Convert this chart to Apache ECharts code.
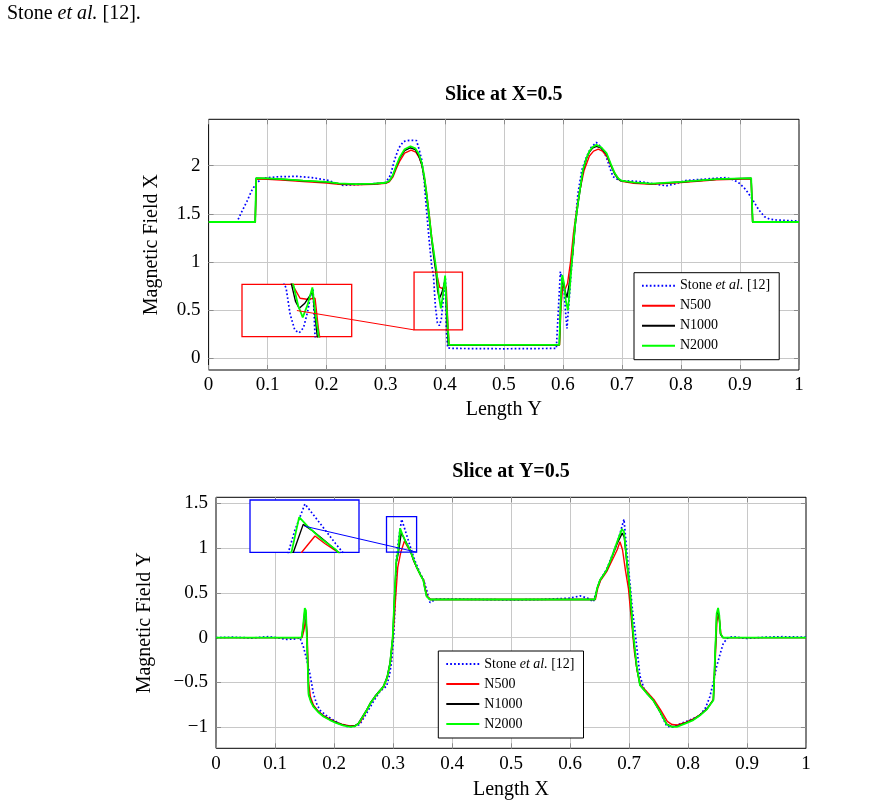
<!DOCTYPE html>
<html>
<head>
<meta charset="utf-8">
<title>Slice at X=0.5 / Slice at Y=0.5</title>
<script src="https://cdn.jsdelivr.net/npm/echarts@6.0.0/dist/echarts.min.js"></script>
<style>
    html, body { margin: 0; padding: 0; background: #fff; }
    #chart { width: 888px; height: 807px; }
</style>
</head>
<body>
<div id="chart"></div>
<script>
// legend names and colours
var STONE = 'Stone et al. [12]';
var seriesNames = [STONE, 'N500', 'N1000', 'N2000'];
var seriesColors = ['#0000ff', '#ff0000', '#000000', '#00ff00'];

// tick labels
var topYTicks = [0, 0.5, 1, 1.5, 2];
var botYTicks = [-1, -0.5, 0, 0.5, 1, 1.5];

// Slice at X=0.5 : [Length Y, Magnetic Field X]
var topStone = [[0,1.415],[0.048,1.415],[0.056,1.52],[0.065,1.63],[0.073,1.74],[0.081,1.82],[0.09,1.86],[0.1,1.875],[0.12,1.885],[0.15,1.888],[0.175,1.875],[0.2,1.85],[0.215,1.82],[0.228,1.795],[0.245,1.8],[0.268,1.81],[0.29,1.815],[0.3,1.825],[0.308,1.9],[0.315,2.06],[0.322,2.18],[0.33,2.25],[0.34,2.262],[0.352,2.26],[0.356,2.18],[0.361,2.06],[0.365,1.85],[0.369,1.54],[0.374,1.2],[0.3775,0.98],[0.381,0.85],[0.384,0.55],[0.3875,0.37],[0.3908,0.34],[0.394,0.4],[0.397,0.58],[0.3995,0.78],[0.4011,0.84],[0.4026,0.3],[0.405,0.11],[0.41,0.104],[0.5,0.1],[0.589,0.104],[0.5958,0.9],[0.599,0.8],[0.602,0.72],[0.605,0.45],[0.607,0.31],[0.61,0.55],[0.6144,0.92],[0.62,1.35],[0.6256,1.71],[0.632,1.95],[0.64,2.09],[0.648,2.19],[0.6567,2.24],[0.665,2.19],[0.6736,2.09],[0.68,1.97],[0.685,1.885],[0.696,1.845],[0.73,1.835],[0.755,1.81],[0.775,1.79],[0.79,1.81],[0.808,1.845],[0.84,1.86],[0.877,1.875],[0.89,1.85],[0.899,1.817],[0.91,1.75],[0.9217,1.644],[0.932,1.54],[0.9415,1.47],[0.95,1.445],[0.961,1.436],[0.98,1.43],[1,1.425]];
var topN500 = [[0,1.415],[0.079,1.415],[0.081,1.86],[0.1,1.858],[0.13,1.848],[0.16,1.835],[0.2,1.82],[0.22,1.806],[0.25,1.8],[0.28,1.805],[0.3,1.815],[0.306,1.832],[0.312,1.88],[0.318,1.97],[0.324,2.05],[0.332,2.13],[0.343,2.16],[0.351,2.14],[0.357,2.08],[0.362,1.99],[0.366,1.86],[0.37,1.68],[0.3745,1.45],[0.378,1.25],[0.382,1.06],[0.3856,0.896],[0.3914,0.736],[0.3965,0.725],[0.4026,0.736],[0.405,0.4],[0.4075,0.14],[0.5,0.14],[0.5945,0.14],[0.597,0.55],[0.6,0.75],[0.604,0.72],[0.608,0.78],[0.613,1.0],[0.618,1.3],[0.623,1.52],[0.628,1.72],[0.636,1.95],[0.645,2.1],[0.652,2.15],[0.66,2.17],[0.667,2.15],[0.675,2.09],[0.682,1.99],[0.69,1.9],[0.696,1.85],[0.702,1.835],[0.72,1.815],[0.75,1.805],[0.8,1.825],[0.86,1.852],[0.919,1.862],[0.9215,1.415],[1,1.415]];
var topN1000 = [[0,1.415],[0.079,1.415],[0.0805,1.87],[0.1,1.866],[0.13,1.856],[0.16,1.843],[0.2,1.828],[0.22,1.814],[0.25,1.807],[0.28,1.811],[0.3,1.82],[0.306,1.838],[0.312,1.895],[0.318,1.99],[0.324,2.08],[0.332,2.155],[0.342,2.185],[0.35,2.165],[0.356,2.1],[0.361,2.01],[0.365,1.88],[0.369,1.7],[0.3735,1.46],[0.3775,1.25],[0.381,1.07],[0.385,0.896],[0.388,0.7],[0.3908,0.621],[0.395,0.68],[0.4008,0.811],[0.4025,0.55],[0.4043,0.296],[0.406,0.14],[0.5,0.14],[0.594,0.14],[0.5965,0.6],[0.599,0.82],[0.603,0.72],[0.607,0.63],[0.611,0.78],[0.617,1.1],[0.621,1.38],[0.6256,1.6],[0.634,1.94],[0.64,2.07],[0.645,2.14],[0.65,2.18],[0.657,2.2],[0.665,2.18],[0.674,2.12],[0.681,2.01],[0.688,1.91],[0.694,1.86],[0.699,1.842],[0.72,1.823],[0.75,1.81],[0.8,1.83],[0.86,1.858],[0.919,1.868],[0.9215,1.415],[1,1.415]];
var topN2000 = [[0,1.415],[0.079,1.415],[0.0805,1.87],[0.1,1.868],[0.13,1.858],[0.16,1.845],[0.2,1.83],[0.22,1.815],[0.25,1.808],[0.28,1.812],[0.3,1.822],[0.306,1.84],[0.312,1.9],[0.318,2.0],[0.324,2.09],[0.332,2.17],[0.342,2.2],[0.35,2.18],[0.356,2.12],[0.361,2.03],[0.365,1.9],[0.369,1.72],[0.3735,1.48],[0.3775,1.26],[0.382,1.08],[0.3863,0.896],[0.39,0.65],[0.3934,0.518],[0.397,0.66],[0.4006,0.86],[0.403,0.55],[0.4054,0.296],[0.407,0.14],[0.5,0.14],[0.594,0.14],[0.5965,0.6],[0.599,0.865],[0.602,0.78],[0.605,0.6],[0.6087,0.5],[0.612,0.75],[0.617,1.125],[0.621,1.4],[0.6256,1.61],[0.634,1.955],[0.64,2.08],[0.645,2.15],[0.65,2.19],[0.657,2.215],[0.665,2.19],[0.674,2.13],[0.681,2.02],[0.688,1.92],[0.694,1.865],[0.699,1.845],[0.72,1.825],[0.75,1.812],[0.8,1.832],[0.86,1.86],[0.919,1.87],[0.9215,1.415],[1,1.415]];

// Slice at Y=0.5 : [Length X, Magnetic Field Y]
var botStone = [[0,0],[0.03,0.005],[0.06,-0.005],[0.09,0.012],[0.12,-0.02],[0.135,-0.015],[0.142,0],[0.148,-0.1],[0.154,-0.25],[0.159,-0.4],[0.165,-0.62],[0.17,-0.73],[0.176,-0.81],[0.187,-0.87],[0.199,-0.92],[0.21,-0.96],[0.2215,-0.99],[0.232,-0.995],[0.2435,-0.97],[0.252,-0.88],[0.26,-0.79],[0.268,-0.7],[0.278,-0.6],[0.2893,-0.54],[0.294,-0.42],[0.298,-0.25],[0.3015,0.05],[0.3034,0.35],[0.306,0.9],[0.31,1.12],[0.3147,1.32],[0.32,1.21],[0.329,1.02],[0.337,0.86],[0.3458,0.72],[0.352,0.64],[0.357,0.53],[0.3627,0.39],[0.368,0.41],[0.374,0.43],[0.4,0.43],[0.45,0.425],[0.5,0.42],[0.55,0.425],[0.6,0.44],[0.617,0.465],[0.63,0.44],[0.6395,0.4],[0.645,0.52],[0.651,0.64],[0.662,0.76],[0.673,0.94],[0.683,1.12],[0.6915,1.32],[0.6965,0.95],[0.7017,0.6],[0.706,0.3],[0.71,0.086],[0.7186,-0.43],[0.726,-0.58],[0.741,-0.69],[0.752,-0.82],[0.764,-0.99],[0.775,-1.0],[0.787,-0.96],[0.803,-0.92],[0.82,-0.87],[0.83,-0.78],[0.837,-0.66],[0.843,-0.5],[0.8486,-0.32],[0.855,-0.17],[0.86,-0.06],[0.868,0.0],[0.877,0.01],[0.9,-0.01],[0.93,0.005],[0.96,0.01],[1,0.005]];
var botN500 = [[0,0],[0.146,0],[0.149,0.08],[0.152,0.2],[0.1545,0.05],[0.157,-0.5],[0.16,-0.66],[0.165,-0.75],[0.173,-0.82],[0.182,-0.87],[0.193,-0.91],[0.2045,-0.945],[0.215,-0.97],[0.227,-0.985],[0.237,-0.98],[0.244,-0.95],[0.25,-0.88],[0.2565,-0.8],[0.263,-0.72],[0.2705,-0.655],[0.278,-0.595],[0.2846,-0.545],[0.291,-0.43],[0.296,-0.26],[0.3005,0.05],[0.3045,0.45],[0.308,0.78],[0.3132,0.953],[0.3194,1.077],[0.324,1.02],[0.3303,0.953],[0.335,0.86],[0.34,0.785],[0.3465,0.7],[0.352,0.64],[0.355,0.54],[0.358,0.46],[0.364,0.425],[0.5,0.425],[0.643,0.425],[0.647,0.55],[0.652,0.64],[0.657,0.685],[0.663,0.745],[0.669,0.83],[0.675,0.91],[0.68,0.98],[0.6847,1.07],[0.689,0.98],[0.694,0.75],[0.699,0.55],[0.704,0.2],[0.709,-0.15],[0.714,-0.38],[0.72,-0.53],[0.731,-0.61],[0.742,-0.69],[0.753,-0.8],[0.765,-0.935],[0.773,-0.97],[0.782,-0.975],[0.796,-0.945],[0.81,-0.905],[0.821,-0.86],[0.833,-0.79],[0.843,-0.69],[0.8462,-0.25],[0.849,0.18],[0.8515,0.26],[0.8535,0.18],[0.856,0.03],[0.86,0],[1,0]];
var botN1000 = [[0,0],[0.145,0],[0.1475,0.1],[0.1505,0.3],[0.1525,0.27],[0.1545,-0.1],[0.157,-0.63],[0.161,-0.71],[0.165,-0.765],[0.173,-0.825],[0.182,-0.875],[0.193,-0.915],[0.2045,-0.95],[0.215,-0.975],[0.227,-0.99],[0.235,-0.985],[0.241,-0.96],[0.248,-0.885],[0.2554,-0.805],[0.262,-0.725],[0.2695,-0.655],[0.277,-0.595],[0.2836,-0.545],[0.29,-0.44],[0.295,-0.28],[0.2995,0],[0.3025,0.43],[0.3055,0.83],[0.3093,0.953],[0.3139,1.165],[0.318,1.12],[0.324,1.04],[0.3303,0.953],[0.335,0.86],[0.34,0.785],[0.3465,0.7],[0.3514,0.64],[0.354,0.55],[0.357,0.46],[0.3627,0.425],[0.5,0.425],[0.642,0.425],[0.646,0.55],[0.651,0.644],[0.656,0.69],[0.662,0.75],[0.668,0.845],[0.673,0.93],[0.68,1.05],[0.6885,1.165],[0.692,1.12],[0.6965,0.82],[0.7017,0.51],[0.707,0.03],[0.713,-0.33],[0.7186,-0.53],[0.73,-0.62],[0.741,-0.7],[0.752,-0.82],[0.764,-0.965],[0.772,-0.99],[0.781,-0.99],[0.795,-0.955],[0.809,-0.915],[0.82,-0.865],[0.832,-0.795],[0.843,-0.695],[0.8458,-0.22],[0.8486,0.25],[0.851,0.3],[0.853,0.22],[0.855,0.04],[0.859,0],[1,0]];
var botN2000 = [[0,0],[0.145,0],[0.1475,0.12],[0.1505,0.33],[0.1525,0.3],[0.1545,-0.1],[0.157,-0.64],[0.161,-0.72],[0.165,-0.77],[0.173,-0.83],[0.182,-0.88],[0.193,-0.92],[0.2045,-0.955],[0.215,-0.98],[0.227,-0.995],[0.235,-0.99],[0.241,-0.965],[0.248,-0.89],[0.2554,-0.81],[0.262,-0.73],[0.2695,-0.66],[0.277,-0.6],[0.2836,-0.55],[0.29,-0.45],[0.295,-0.29],[0.2995,0],[0.3025,0.45],[0.3055,0.85],[0.3085,0.96],[0.312,1.22],[0.316,1.15],[0.322,1.06],[0.329,0.975],[0.335,0.87],[0.34,0.79],[0.3465,0.7],[0.3514,0.64],[0.354,0.55],[0.357,0.46],[0.3627,0.425],[0.5,0.425],[0.642,0.425],[0.646,0.55],[0.651,0.644],[0.656,0.69],[0.662,0.755],[0.668,0.85],[0.673,0.94],[0.68,1.07],[0.688,1.21],[0.6915,1.18],[0.6965,0.85],[0.7017,0.53],[0.707,0.05],[0.713,-0.32],[0.7186,-0.53],[0.73,-0.62],[0.741,-0.7],[0.752,-0.82],[0.764,-0.97],[0.772,-0.995],[0.781,-0.995],[0.795,-0.96],[0.809,-0.92],[0.82,-0.87],[0.832,-0.8],[0.843,-0.7],[0.8458,-0.21],[0.8486,0.27],[0.851,0.33],[0.853,0.25],[0.855,0.05],[0.859,0],[1,0]];

// zoomed windows (data coords) and where the inset boxes sit
var topZoom = {x: [0.348, 0.430], y: [0.296, 0.896]};
var botZoom = {x: [0.289, 0.340], y: [0.953, 1.35]};
var topInsetCenter = [0.1495, 0.497];
var botInsetCenter = [0.150, 1.243];

var FONT = '"Liberation Serif", "Times New Roman", serif';
var GRID_COLOR = '#c8c8c8';
var TICK_COLOR = '#8c8c8c';

var myChart = echarts.init(document.getElementById('chart'), null, {renderer: 'canvas'});

function fmtX(v) {
    return String(Math.round(v * 10) / 10);
}
function fmtY(v) {
    return String(v).replace('-', '\u2212');
}

function lineStyleOf(i) {
    if (i === 0) {
        return {color: seriesColors[0], width: 1.7, type: [1.7, 2.2]};
    }
    return {color: seriesColors[i], width: i === 3 ? 1.8 : 1.4, type: 'solid'};
}

function makeSeries(data, i, axisIndex, z) {
    return {
        name: seriesNames[i],
        type: 'line',
        xAxisIndex: axisIndex,
        yAxisIndex: axisIndex,
        data: data,
        symbol: 'none',
        showSymbol: false,
        clip: true,
        lineStyle: lineStyleOf(i),
        emphasis: {disabled: true},
        z: z,
        animation: false
    };
}

function mainX(grid, name, nameGap) {
    return {
        type: 'value', gridIndex: grid, min: 0, max: 1, interval: 0.1, position: 'bottom',
        name: name, nameLocation: 'middle', nameGap: nameGap,
        nameTextStyle: {fontFamily: FONT, fontSize: 20, color: '#000'},
        axisLine: {show: false, onZero: false},
        axisTick: {inside: true, length: 5, lineStyle: {color: TICK_COLOR}},
        axisLabel: {fontFamily: FONT, fontSize: 19, color: '#000', margin: 6, formatter: fmtX},
        splitLine: {show: true, showMinLine: false, showMaxLine: false, lineStyle: {color: GRID_COLOR, width: 1}}
    };
}
function topTicksX(grid) {
    return {
        type: 'value', gridIndex: grid, min: 0, max: 1, interval: 0.1, position: 'top',
        axisLine: {show: false, onZero: false},
        axisTick: {inside: true, length: 5, lineStyle: {color: TICK_COLOR}},
        axisLabel: {show: false}, splitLine: {show: false}
    };
}
function mainY(grid, min, max, ticks, name, nameGap) {
    return {
        type: 'value', gridIndex: grid, min: min, max: max, position: 'left',
        name: name, nameLocation: 'middle', nameGap: nameGap, nameRotate: 90,
        nameTextStyle: {fontFamily: FONT, fontSize: 20, color: '#000'},
        axisLine: {show: false, onZero: false},
        axisTick: {inside: true, length: 5, customValues: ticks, lineStyle: {color: TICK_COLOR}},
        axisLabel: {fontFamily: FONT, fontSize: 19, color: '#000', margin: 8, customValues: ticks, formatter: fmtY},
        splitLine: {show: true, lineStyle: {color: GRID_COLOR, width: 1}}
    };
}
function rightTicksY(grid, min, max, ticks) {
    return {
        type: 'value', gridIndex: grid, min: min, max: max, position: 'right',
        axisLine: {show: false, onZero: false},
        axisTick: {inside: true, length: 5, customValues: ticks, lineStyle: {color: TICK_COLOR}},
        axisLabel: {show: false, customValues: ticks}, splitLine: {show: false}
    };
}
function hiddenAxis(grid, range) {
    return {type: 'value', gridIndex: grid, min: range[0], max: range[1], show: false};
}

function makeLegend(left, top) {
    return {
        orient: 'vertical', left: left, top: top,
        data: seriesNames,
        itemWidth: 33, itemHeight: 14, itemGap: 6,
        padding: [6, 9, 7, 7],
        backgroundColor: '#fff', borderColor: '#000', borderWidth: 1, borderRadius: 0,
        selectedMode: false,
        itemStyle: {opacity: 0},
        formatter: function (name) {
            if (name === STONE) {
                return '{n|Stone }{i|et al.}{n| [12]}';
            }
            return '{n|' + name + '}';
        },
        textStyle: {
            fontFamily: FONT, fontSize: 14, color: '#000',
            rich: {
                n: {fontFamily: FONT, fontSize: 14, color: '#000'},
                i: {fontFamily: FONT, fontSize: 14, color: '#000', fontStyle: 'italic'}
            }
        }
    };
}

var topMain = [topStone, topN500, topN1000, topN2000];
var botMain = [botStone, botN500, botN1000, botN2000];

var series = [];
topMain.forEach(function (d, i) { series.push(makeSeries(d, i, 0, 2)); });
topMain.forEach(function (d, i) { series.push(makeSeries(d, i, 2, 4)); });
botMain.forEach(function (d, i) { series.push(makeSeries(d, i, 3, 2)); });
botMain.forEach(function (d, i) { series.push(makeSeries(d, i, 5, 4)); });

// zoom box + connector line on the main plots
series[3].markArea = {
    silent: true, z: 5,
    itemStyle: {color: 'rgba(0,0,0,0)', borderColor: '#ff0000', borderWidth: 1.3},
    data: [[{coord: [topZoom.x[0], topZoom.y[0]]}, {coord: [topZoom.x[1], topZoom.y[1]]}]]
};
series[3].markLine = {
    silent: true, z: 6, symbol: 'none', label: {show: false},
    lineStyle: {color: '#ff0000', width: 1, type: 'solid'},
    data: [[{coord: topInsetCenter}, {coord: [topZoom.x[0], topZoom.y[0]]}]]
};
series[11].markArea = {
    silent: true, z: 5,
    itemStyle: {color: 'rgba(0,0,0,0)', borderColor: '#0000ff', borderWidth: 1.3},
    data: [[{coord: [botZoom.x[0], botZoom.y[0]]}, {coord: [botZoom.x[1], botZoom.y[1]]}]]
};
series[11].markLine = {
    silent: true, z: 6, symbol: 'none', label: {show: false},
    lineStyle: {color: '#0000ff', width: 1, type: 'solid'},
    data: [[{coord: botInsetCenter}, {coord: [botZoom.x[1], botZoom.y[0]]}]]
};

var option = {
    backgroundColor: '#fff',
    animation: false,
    title: [
        {text: 'Slice at X=0.5', left: 503.8, top: 85, textAlign: 'center', padding: 0,
            textStyle: {fontFamily: FONT, fontSize: 20, fontWeight: 'bold', color: '#000'}},
        {text: 'Slice at Y=0.5', left: 511, top: 462, textAlign: 'center', padding: 0,
            textStyle: {fontFamily: FONT, fontSize: 20, fontWeight: 'bold', color: '#000'}}
    ],
    graphic: [{
        type: 'text', left: 7, top: 4, silent: true,
        style: {
            text: '{n|Stone }{i|et al.}{n| [12].}',
            rich: {
                n: {fontFamily: FONT, fontSize: 20, fill: '#000'},
                i: {fontFamily: FONT, fontSize: 20, fontStyle: 'italic', fill: '#000'}
            }
        }
    }],
    legend: [makeLegend(634, 272.7), makeLegend(438.3, 651)],
    grid: [
        {left: 208.6, top: 119.3, width: 590.4, height: 250.7, show: true, borderColor: '#000', borderWidth: 1,
            backgroundColor: 'rgba(0,0,0,0)', containLabel: false, outerBoundsMode: 'none', z: 0},
        {left: 242, top: 284.3, width: 109.7, height: 52.4, show: true, borderColor: '#ff0000', borderWidth: 1.3,
            backgroundColor: '#fff', containLabel: false, outerBoundsMode: 'none', z: 3},
        {left: 216, top: 497.3, width: 590, height: 251, show: true, borderColor: '#000', borderWidth: 1,
            backgroundColor: 'rgba(0,0,0,0)', containLabel: false, outerBoundsMode: 'none', z: 0},
        {left: 250, top: 500, width: 109, height: 52.3, show: true, borderColor: '#0000ff', borderWidth: 1.3,
            backgroundColor: '#fff', containLabel: false, outerBoundsMode: 'none', z: 3}
    ],
    xAxis: [
        mainX(0, 'Length Y', 30),
        topTicksX(0),
        hiddenAxis(1, topZoom.x),
        mainX(2, 'Length X', 31),
        topTicksX(2),
        hiddenAxis(3, botZoom.x)
    ],
    yAxis: [
        mainY(0, -0.12, 2.48, topYTicks, 'Magnetic Field X', 47),
        rightTicksY(0, -0.12, 2.48, topYTicks),
        hiddenAxis(1, topZoom.y),
        mainY(2, -1.235, 1.565, botYTicks, 'Magnetic Field Y', 61),
        rightTicksY(2, -1.235, 1.565, botYTicks),
        hiddenAxis(3, botZoom.y)
    ],
    series: series
};

myChart.setOption(option);
</script>
</body>
</html>
